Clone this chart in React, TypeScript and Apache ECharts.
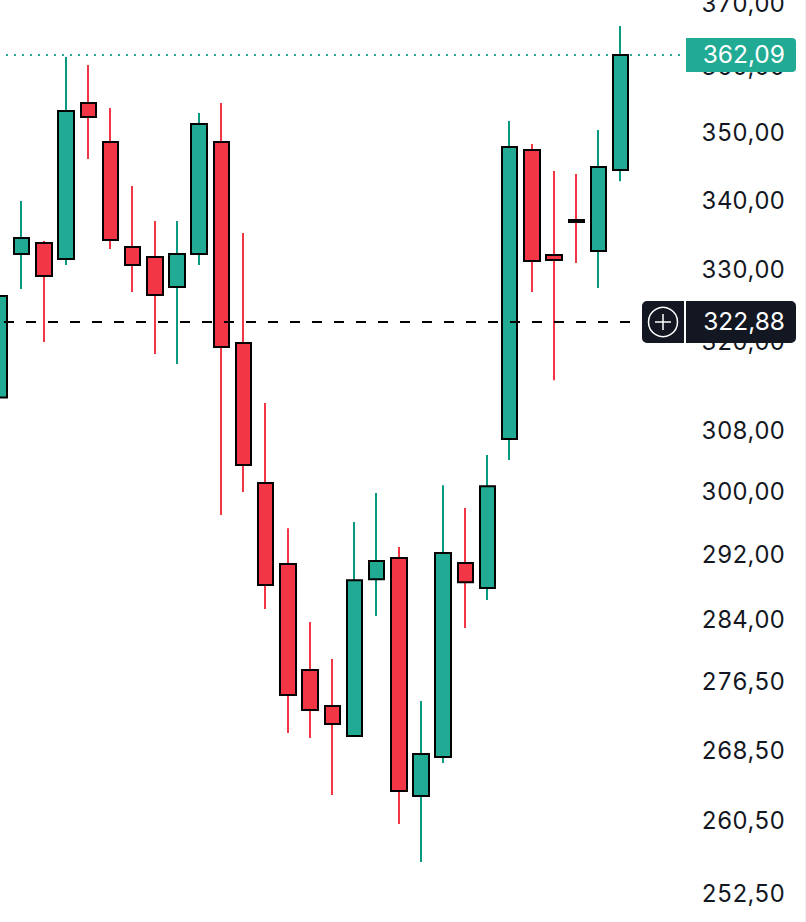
import React, { useEffect, useRef } from "react";
import * as echarts from "echarts";

const opens = [312.57, 332.44, 334.01, 331.73, 354.70, 348.81, 333.44, 332.01, 327.75, 332.44, 348.81, 319.97, 301.30, 291.01, 278.07, 273.80, 270.30, 289.13, 291.76, 263.42, 267.88, 291.14, 288.03, 307.05, 347.61, 332.30, 337.32, 332.87, 344.64];
const closes = [326.50, 334.73, 329.30, 353.49, 352.57, 334.44, 330.87, 326.64, 332.44, 351.51, 319.42, 303.65, 288.40, 275.10, 273.33, 271.69, 289.00, 291.39, 263.99, 268.22, 292.39, 288.75, 300.91, 348.06, 331.44, 331.59, 337.03, 345.08, 362.09];
const lows = [312.57, 327.47, 320.11, 330.87, 346.27, 333.16, 327.05, 318.47, 317.10, 330.87, 297.20, 300.15, 285.45, 270.64, 270.07, 263.54, 270.30, 284.59, 260.27, 256.07, 267.19, 283.12, 286.55, 304.31, 327.05, 314.91, 331.16, 327.61, 343.00];
const highs = [326.50, 340.09, 334.30, 361.78, 360.54, 353.94, 342.28, 337.18, 337.18, 353.18, 354.70, 335.44, 311.84, 295.53, 283.85, 279.39, 296.30, 300.02, 293.14, 274.39, 301.04, 298.10, 304.96, 351.97, 348.51, 344.49, 344.04, 350.60, 366.63];
const priceTicks = [370, 360, 350, 340, 330, 320, 308, 300, 292, 284, 276.5, 268.5, 260.5, 252.5];
const lastPrice = 362.09;
const crosshairPrice = 322.88;
const blankSlots = 3;

const GREEN = "#22AB94";
const GREEN_WICK = "#089981";
const RED = "#F23645";
const DARK = "#131722";
const FONT = "Inter";

const BAND = 22.18;
const GRID_LEFT = -11.02;
// The candlestick layout snaps its strokes to half pixels; the whole chart is moved by -0.5px
// so that 2px strokes stay crisp, and fixed overlay positions are offset by O to compensate.
const O = 0.5;

export default function App() {
  const ref = useRef<HTMLDivElement>(null);
  useEffect(() => {
    document.body.style.margin = "0";
    const chart = echarts.init(ref.current!, undefined, { renderer: "svg" });
    const categories = [...opens, ...Array(blankSlots).fill(0)].map((_, i) => String(i));
    const gridWidth = categories.length * BAND;
    const wicks = opens.map((o, i) => [o, closes[i], lows[i], highs[i]]);
    const bodies = opens.map((o, i) => [o, closes[i], Math.min(o, closes[i]), Math.max(o, closes[i])]);
    const fmt = (v: number) => v.toFixed(2).replace(".", ",");
    const labelFont = `24.5px ${FONT}`;
    chart.setOption({
      animation: false,
      backgroundColor: "#ffffff",
      grid: { left: GRID_LEFT, top: O, width: gridWidth, height: 922, containLabel: false, outerBoundsMode: "none" },
      xAxis: [
        { type: "category", data: categories, boundaryGap: true, show: false },
        { type: "value", min: GRID_LEFT, max: GRID_LEFT + gridWidth, show: false },
      ],
      yAxis: {
        type: "log",
        logBase: 10,
        min: 249.56,
        max: 370.74,
        position: "right",
        axisLine: { show: false },
        axisTick: { show: false },
        splitLine: { show: false },
        minorTick: { show: false },
        axisLabel: {
          customValues: priceTicks,
          formatter: (v: number) => fmt(v),
          align: "right",
          verticalAlign: "bottom",
          lineHeight: 3,
          margin: 86.76,
          color: DARK,
          fontFamily: FONT,
          fontSize: 23.8,
          showMinLabel: true,
          showMaxLabel: true,
        },
      },
      series: [
        {
          type: "candlestick",
          name: "wicks",
          barWidth: 1,
          data: wicks,
          itemStyle: { color: GREEN_WICK, color0: RED, borderColor: GREEN_WICK, borderColor0: RED, borderWidth: 2 },
          z: 2,
        },
        {
          type: "candlestick",
          name: "bodies",
          barWidth: 16,
          data: bodies,
          itemStyle: { color: GREEN, color0: RED, borderColor: "#000000", borderColor0: "#000000", borderWidth: 2 },
          z: 3,
        },
        {
          type: "line",
          name: "last",
          xAxisIndex: 1,
          showSymbol: false,
          data: [[6 + O, lastPrice], [680 + O, lastPrice]],
          lineStyle: { color: GREEN, width: 2, type: [2, 6] },
          z: 1,
        },
        {
          type: "line",
          name: "cross",
          xAxisIndex: 1,
          showSymbol: false,
          data: [[4 + O, crosshairPrice], [631 + O, crosshairPrice]],
          lineStyle: { color: "#000000", width: 2, type: [10, 12] },
          z: 5,
        },
      ],
      graphic: [
        { type: "rect", z: 100, shape: { x: 805 + O, y: 0, width: 1, height: 923 }, style: { fill: "#eef0f3" } },
        { type: "rect", z: 100, shape: { x: 686 + O, y: 38 + O, width: 110, height: 34, r: [0, 4, 4, 0] }, style: { fill: GREEN } },
        { type: "text", z: 101, x: 785 + O, y: 54 + O, style: { text: fmt(lastPrice), fill: "#ffffff", font: labelFont, align: "right", verticalAlign: "middle" } },
        { type: "rect", z: 100, shape: { x: 642 + O, y: 301 + O, width: 42, height: 42, r: [5, 0, 0, 5] }, style: { fill: DARK } },
        { type: "rect", z: 100, shape: { x: 686 + O, y: 301 + O, width: 110, height: 42, r: [0, 5, 5, 0] }, style: { fill: DARK } },
        { type: "circle", z: 101, shape: { cx: 663 + O, cy: 322 + O, r: 14.5 }, style: { fill: "none", stroke: "#ffffff", lineWidth: 1.5 } },
        { type: "line", z: 101, shape: { x1: 655 + O, y1: 322 + O, x2: 671 + O, y2: 322 + O }, style: { stroke: "#ffffff", lineWidth: 1.5 } },
        { type: "line", z: 101, shape: { x1: 663 + O, y1: 314 + O, x2: 663 + O, y2: 330 + O }, style: { stroke: "#ffffff", lineWidth: 1.5 } },
        { type: "text", z: 101, x: 785 + O, y: 321 + O, style: { text: fmt(crosshairPrice), fill: "#ffffff", font: labelFont, align: "right", verticalAlign: "middle" } },
      ],
    });
    return () => chart.dispose();
  }, []);
  return (
    <div
      ref={ref}
      style={{
        position: "absolute",
        left: 0,
        top: 0,
        width: 807,
        height: 923,
        transform: "translate(-0.5px, -0.5px)",
        fontVariantNumeric: "tabular-nums",
      }}
    />
  );
}
